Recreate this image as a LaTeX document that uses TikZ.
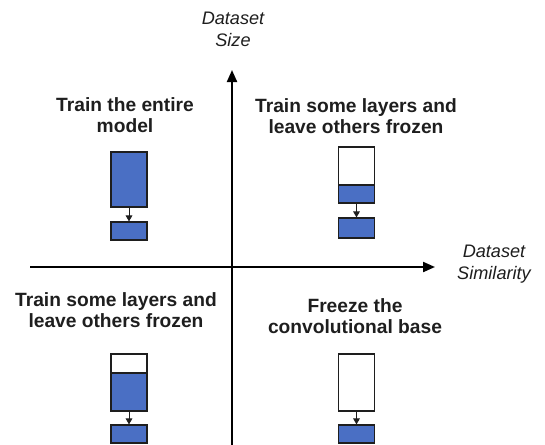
\documentclass[tikz,border=0pt]{standalone}
\usepackage{fontspec}
\setmainfont{Liberation Sans}
\usetikzlibrary{arrows.meta}
\definecolor{layerblue}{HTML}{4A6FC4}
\definecolor{inkgray}{HTML}{1E1E1E}
\tikzset{
  axisline/.style={line width=1.6pt, draw=black, -{Triangle[length=9pt,width=7.5pt]}},
  layerbox/.style={draw=inkgray, line width=0.9pt, inner sep=0pt, minimum width=27pt},
  frozen/.style={layerbox, fill=white},
  trained/.style={layerbox, fill=layerblue},
  flow/.style={line width=0.7pt, draw=inkgray, -{Triangle[length=4.5pt,width=5pt]}},
  caption/.style={font=\bfseries\fontsize{14.4}{15.75}\selectfont, text=inkgray, align=center, inner sep=0pt, anchor=north},
  axislabel/.style={font=\itshape\fontsize{13.6}{16}\selectfont, text=inkgray, align=center, inner sep=0pt, anchor=north}
}
\begin{document}
\begin{tikzpicture}[x=0.75pt, y=-0.75pt]
\useasboundingbox (0,0) rectangle (545,444);

% axes
\coordinate (xl) at (30,267);
\coordinate (xr) at (435,267);
\coordinate (yb) at (232,446);
\coordinate (yt) at (232,70);
\draw[axisline] (xl) -- (xr);
\draw[axisline] (yb) -- (yt);
\node[axislabel] (ylab) at (233,12) {Dataset\\Size};
\node[axislabel] (xlab) at (494,245) {Dataset\\Similarity};

% large dataset, low similarity
\node[caption] (captl) at (125,97) {Train the entire\\model};
\node[trained, minimum height=41.25pt] (tlup) at (129,179.5) {};
\node[trained, minimum height=13.5pt] (tllo) at (129,231) {};
\draw[flow] (tlup.south) -- (tllo.north);

% large dataset, high similarity
\node[caption] (captr) at (356,98) {Train some layers and\\leave others frozen};
\node[frozen, minimum height=28.5pt] (trtop) at (356.5,166) {};
\node[trained, minimum height=13.5pt] (trmid) at (356.5,194) {};
\node[trained, minimum height=15pt] (trlo) at (356.5,228) {};
\draw[flow] (trmid.south) -- (trlo.north);

% small dataset, low similarity
\node[caption] (capbl) at (116,292) {Train some layers and\\leave others frozen};
\node[frozen, minimum height=14.25pt] (bltop) at (129,363.5) {};
\node[trained, minimum height=28.5pt] (blmid) at (129,392) {};
\node[trained, minimum height=13.5pt] (bllo) at (129,434) {};
\draw[flow] (blmid.south) -- (bllo.north);

% small dataset, high similarity
\node[caption] (capbr) at (355,298) {Freeze the\\convolutional base};
\node[frozen, minimum height=42.75pt] (brup) at (356.5,382.5) {};
\node[trained, minimum height=13.5pt] (brlo) at (356.5,434) {};
\draw[flow] (brup.south) -- (brlo.north);
\end{tikzpicture}
\end{document}
